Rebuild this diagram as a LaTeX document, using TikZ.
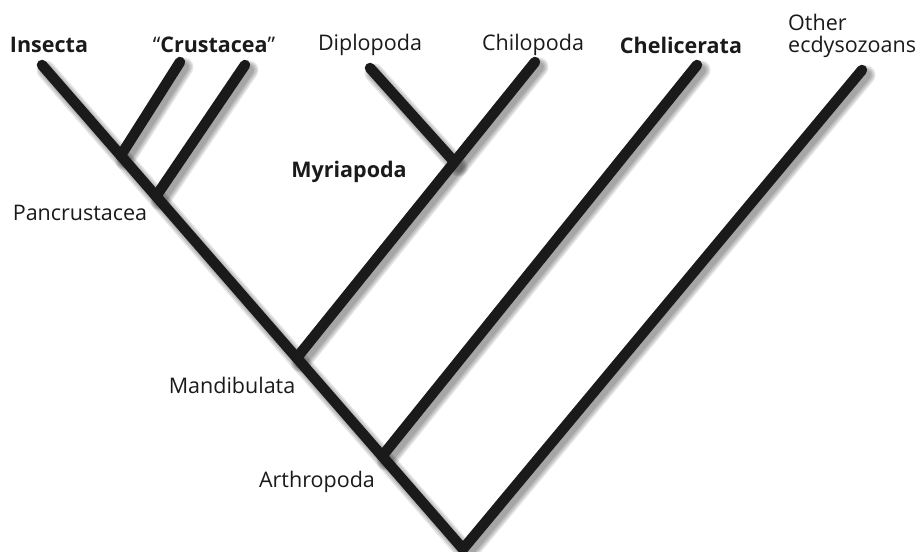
\documentclass[tikz,border=0pt]{standalone}
\usepackage{fontspec}
\setmainfont{Open Sans}
\usetikzlibrary{calc}
\definecolor{ink}{HTML}{1A1A1A}
\begin{document}
\begin{tikzpicture}[x=1pt,y=-1pt,
  branch/.style={line width=10.5pt, line cap=round, line join=miter, draw=ink},
  shade/.style={line width=#1, line cap=round, line join=miter, draw=black, opacity=0.1},
  lab/.style={text=ink, inner sep=0pt, font=\fontsize{21.5}{25}\selectfont},
  blab/.style={lab, font=\fontsize{21.5}{25}\selectfont\bfseries}]
\useasboundingbox (0,0) rectangle (917,551);
% tips and root
\coordinate (root) at (463,549);
\coordinate (ins) at (42,65);
\coordinate (cr1) at (180,62);
\coordinate (cr2) at (245,65);
\coordinate (dip) at (370,68);
\coordinate (chi) at (535,62);
\coordinate (che) at (697,65);
\coordinate (oth) at (862,70);
% junctions
\coordinate (jc1) at ($(ins)!0.187!(root)$);
\coordinate (jpan) at ($(ins)!0.271!(root)$);
\coordinate (jman) at ($(ins)!0.605!(root)$);
\coordinate (jart) at ($(ins)!0.808!(root)$);
\coordinate (jmyr) at ($(chi)!0.338!(jman)$);
% shadows
\begin{scope}[transform canvas={shift={(4pt,-5pt)}}]
\foreach \w in {19pt,16pt,13pt,10pt}{
  \draw[shade=\w] (ins) -- (root) -- (oth);
  \draw[shade=\w] (cr1) -- (jc1);
  \draw[shade=\w] (cr2) -- (jpan);
  \draw[shade=\w] (dip) -- (jmyr);
  \draw[shade=\w] (chi) -- (jman);
  \draw[shade=\w] (che) -- (jart);
}
\end{scope}
% branches
\draw[branch] (ins) -- (root) -- (oth);
\draw[branch] (cr1) -- (jc1);
\draw[branch] (cr2) -- (jpan);
\draw[branch] (dip) -- (jmyr);
\draw[branch] (chi) -- (jman);
\draw[branch] (che) -- (jart);
% labels
\node[blab] (tins) at (49,45) {Insecta};
\node[lab] (tcru) at (214,45) {“\textbf{Crustacea}”};
\node[lab] (tdip) at (370,45) {Diplopoda};
\node[lab] (tchi) at (533,45) {Chilopoda};
\node[blab] (tche) at (681,45) {Chelicerata};
\node[lab, align=left, anchor=north west] (toth) at (788,14) {Other\\[-3pt]ecdysozoans};
\node[blab] (tmyr) at (349,172) {Myriapoda};
\node[lab] (tpan) at (80,213) {Pancrustacea};
\node[lab] (tman) at (232,385) {Mandibulata};
\node[lab] (tart) at (317,482) {Arthropoda};
\end{tikzpicture}
\end{document}
